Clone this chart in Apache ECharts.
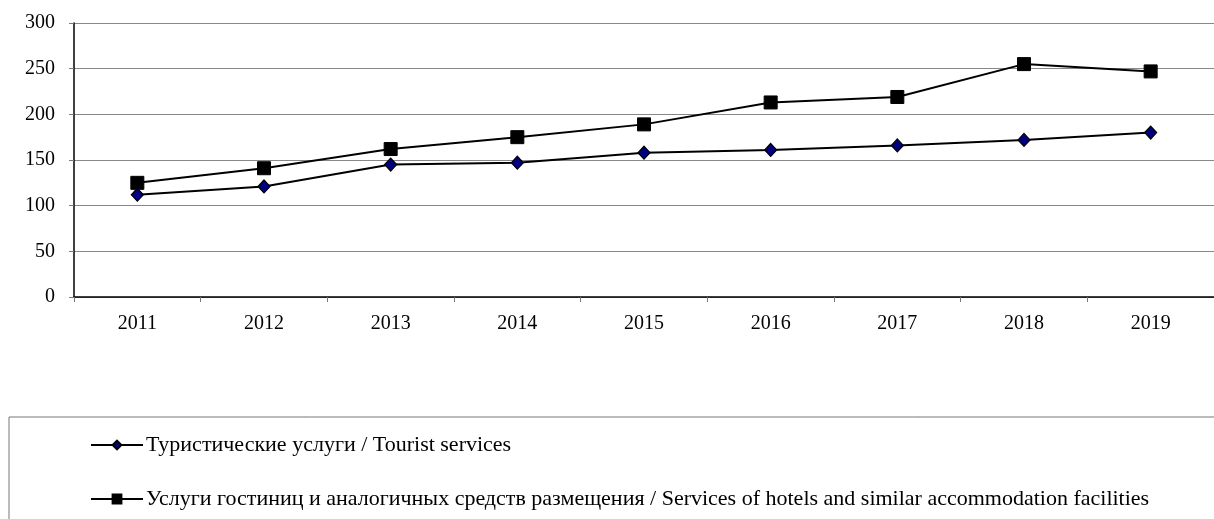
<!DOCTYPE html>
<html>
<head>
<meta charset="utf-8">
<script src="https://cdn.jsdelivr.net/npm/echarts@6/dist/echarts.min.js"></script>
<style>
  html, body { margin: 0; padding: 0; background: #fff; }
  #chart { width: 1214px; height: 519px; }
</style>
</head>
<body>
<div id="chart"></div>
<script>
var years = ['2011', '2012', '2013', '2014', '2015', '2016', '2017', '2018', '2019'];
var tourist = [112, 121, 145, 147, 158, 161, 166, 172, 180];
var hotels = [125, 141, 162, 175, 189, 213, 219, 255, 247];
var names = [
  'Туристические услуги / Tourist services',
  'Услуги гостиниц и аналогичных средств размещения / Services of hotels and similar accommodation facilities'
];

var font = '"Liberation Serif", "Times New Roman", serif';
var chart = echarts.init(document.getElementById('chart'));

chart.setOption({
  animation: false,
  textStyle: { fontFamily: font },
  grid: {
    left: 74,
    top: 23,
    width: 1150,
    height: 274
  },
  legend: {
    orient: 'vertical',
    left: 9,
    top: 417,
    height: 80,
    padding: [17, 200, 40, 81],
    itemGap: 32,
    itemWidth: 52,
    itemHeight: 11,
    borderColor: '#777',
    borderWidth: 1,
    lineStyle: { width: 2 },
    textStyle: { fontFamily: font, fontSize: 22, color: '#000', padding: [0, 0, 0, -2] },
    data: names
  },
  xAxis: {
    type: 'category',
    data: years,
    boundaryGap: true,
    axisLine: { lineStyle: { color: '#000', width: 1.5 } },
    axisTick: { show: true, length: 5, lineStyle: { color: '#777' } },
    axisLabel: { color: '#000', fontSize: 20, margin: 17, fontFamily: font }
  },
  yAxis: {
    type: 'value',
    min: 0,
    max: 300,
    interval: 50,
    axisLine: { show: true, lineStyle: { color: '#000', width: 1.5 } },
    axisTick: { show: true, length: 5, lineStyle: { color: '#777' } },
    axisLabel: { color: '#000', fontSize: 20, margin: 19, fontFamily: font },
    splitLine: { lineStyle: { color: '#888', width: 1 } }
  },
  series: [
    {
      name: names[0],
      type: 'line',
      data: tourist,
      symbol: 'diamond',
      symbolSize: [12, 13],
      lineStyle: { color: '#000', width: 2 },
      itemStyle: { color: '#000080', borderColor: '#000', borderWidth: 1.2 }
    },
    {
      name: names[1],
      type: 'line',
      data: hotels,
      symbol: 'rect',
      symbolSize: 13,
      lineStyle: { color: '#000', width: 2 },
      itemStyle: { color: '#000', borderColor: '#000', borderWidth: 1 }
    }
  ]
});
</script>
</body>
</html>
